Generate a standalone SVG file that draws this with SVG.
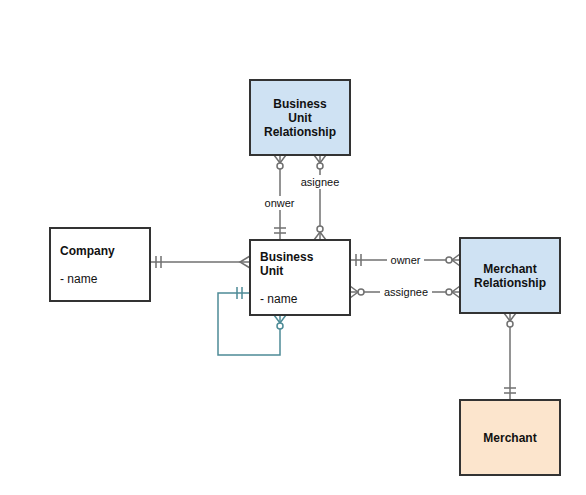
<svg xmlns="http://www.w3.org/2000/svg" width="586" height="495" viewBox="0 0 586 495">
<style>
.box{stroke:#333;stroke-width:2}
.t{font-family:"Liberation Sans",Arial,sans-serif;font-size:12px;fill:#111}
.b{font-weight:bold}
.c{stroke:#707070;stroke-width:1.5;fill:none}
.ct{stroke:#4d8b96;stroke-width:1.5;fill:none}
.ce{fill:#fff}
.lbl{font-family:"Liberation Sans",Arial,sans-serif;font-size:11px;fill:#111;text-anchor:middle}
</style>
<rect width="586" height="495" fill="#fff"/>
<g id="connectors">
  <g id="c-company-bu">
    <path class="c" d="M150,262 H250"/>
    <path class="c" d="M156,256 V268 M161,256 V268"/>
    <path class="c" d="M250,256 L240,262 L250,268"/>
  </g>
  <g id="c-bur-owner">
    <path class="c" d="M280,155 V240"/>
    <path class="c" d="M274,155 L280,163 L286,155"/>
    <circle class="c ce" cx="280" cy="166" r="3"/>
    <path class="c" d="M274,228 H286 M274,233 H286"/>
    <rect x="262" y="196" width="35" height="14" fill="#fff"/>
    <text class="lbl" x="279.5" y="207">onwer</text>
  </g>
  <g id="c-bur-assignee">
    <path class="c" d="M320,155 V240"/>
    <path class="c" d="M314,155 L320,163 L326,155"/>
    <circle class="c ce" cx="320" cy="166" r="3"/>
    <path class="c" d="M314,240 L320,232 L326,240"/>
    <circle class="c ce" cx="320" cy="229" r="3"/>
    <rect x="299" y="175" width="42" height="14" fill="#fff"/>
    <text class="lbl" x="320" y="186">asignee</text>
  </g>
  <g id="c-bu-mr-owner">
    <path class="c" d="M350,260 H460"/>
    <path class="c" d="M356,254 V266 M361,254 V266"/>
    <path class="c" d="M460,254 L452,260 L460,266"/>
    <circle class="c ce" cx="449" cy="260" r="3"/>
    <rect x="387" y="253" width="37" height="14" fill="#fff"/>
    <text class="lbl" x="405.5" y="264">owner</text>
  </g>
  <g id="c-bu-mr-assignee">
    <path class="c" d="M350,292 H460"/>
    <path class="c" d="M350,286 L358,292 L350,298"/>
    <circle class="c ce" cx="361" cy="292" r="3"/>
    <path class="c" d="M460,286 L452,292 L460,298"/>
    <circle class="c ce" cx="449" cy="292" r="3"/>
    <rect x="380" y="285" width="52" height="14" fill="#fff"/>
    <text class="lbl" x="406" y="296">assignee</text>
  </g>
  <g id="c-mr-merchant">
    <path class="c" d="M510,313 V400"/>
    <path class="c" d="M504,313 L510,321 L516,313"/>
    <circle class="c ce" cx="510" cy="324" r="3"/>
    <path class="c" d="M504,388 H516 M504,393 H516"/>
  </g>
  <g id="c-bu-self">
    <path class="ct" d="M250,293 H218 V355 H280 V315"/>
    <path class="ct" d="M237,287 V299 M242,287 V299"/>
    <path class="ct" d="M274,315 L280,323 L286,315"/>
    <circle class="ct ce" cx="280" cy="326" r="3"/>
  </g>
</g>
<g id="bur">
  <rect class="box" x="250" y="80" width="100" height="75" fill="#cfe2f3"/>
  <text class="t b" x="300" y="108" text-anchor="middle">Business</text>
  <text class="t b" x="300" y="122" text-anchor="middle">Unit</text>
  <text class="t b" x="300" y="136" text-anchor="middle">Relationship</text>
</g>
<g id="company">
  <rect class="box" x="50" y="228" width="100" height="73" fill="#fff"/>
  <text class="t b" x="60" y="255">Company</text>
  <text class="t" x="60" y="283">- name</text>
</g>
<g id="bu">
  <rect class="box" x="250" y="240" width="100" height="75" fill="#fff"/>
  <text class="t b" x="260" y="261">Business</text>
  <text class="t b" x="260" y="275">Unit</text>
  <text class="t" x="260" y="303">- name</text>
</g>
<g id="mr">
  <rect class="box" x="460" y="238" width="100" height="75" fill="#cfe2f3"/>
  <text class="t b" x="510" y="273" text-anchor="middle">Merchant</text>
  <text class="t b" x="510" y="287" text-anchor="middle">Relationship</text>
</g>
<g id="merchant">
  <rect class="box" x="460" y="400" width="100" height="75" fill="#fce5cd"/>
  <text class="t b" x="510" y="442" text-anchor="middle">Merchant</text>
</g>
</svg>
